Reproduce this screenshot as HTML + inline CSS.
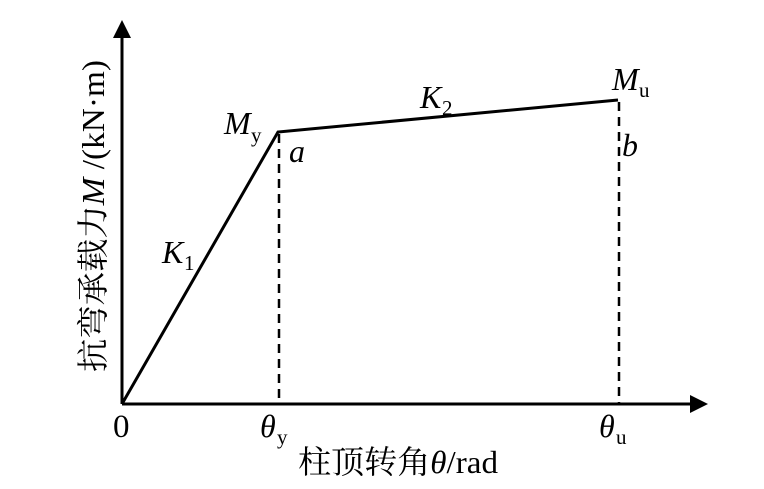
<!DOCTYPE html>
<html><head><meta charset="utf-8"><style>
html,body{margin:0;padding:0;background:#fff;}
svg{display:block;}
text{font-family:"Liberation Serif","Noto Serif CJK SC","Noto Sans CJK SC",serif;fill:#000;}
</style></head><body>
<svg width="764" height="489" viewBox="0 0 764 489" xmlns="http://www.w3.org/2000/svg">
<rect width="764" height="489" fill="#fff"/>
<line x1="122" y1="404" x2="122" y2="34" stroke="#000" stroke-width="3"/>
<polygon points="122,20 113,38 131,38" fill="#000"/>
<line x1="122" y1="404" x2="692" y2="404" stroke="#000" stroke-width="3"/>
<polygon points="708,404 690,395 690,413" fill="#000"/>
<polyline points="122,404 278,132 618,100" fill="none" stroke="#000" stroke-width="3"/>
<line x1="279" y1="134" x2="279" y2="404" stroke="#000" stroke-width="2.5" stroke-dasharray="9,6"/>
<line x1="619" y1="102" x2="619" y2="404" stroke="#000" stroke-width="2.5" stroke-dasharray="9,6"/>
<text x="224" y="134" font-size="32" font-style="italic">M</text><text x="251" y="142" font-size="21">y</text>
<text x="289" y="162" font-size="32" font-style="italic">a</text>
<text x="622" y="156" font-size="32" font-style="italic">b</text>
<text x="612" y="90" font-size="32" font-style="italic">M</text><text x="639" y="97" font-size="21">u</text>
<text x="420" y="108" font-size="32" font-style="italic">K</text><text x="442" y="115" font-size="21">2</text>
<text x="162" y="263" font-size="32" font-style="italic">K</text><text x="184" y="270" font-size="21">1</text>
<text x="113" y="437" font-size="33">0</text>
<text x="260" y="437" font-size="32" font-style="italic">θ</text><text x="277" y="444" font-size="21">y</text>
<text x="599" y="437" font-size="32" font-style="italic">θ</text><text x="616" y="444" font-size="21">u</text>
<text x="298" y="473" font-size="32" textLength="200" lengthAdjust="spacingAndGlyphs">柱顶转角<tspan font-style="italic">θ</tspan>/rad</text>
<text transform="translate(104,372) rotate(-90)" font-size="32" textLength="312" lengthAdjust="spacingAndGlyphs">抗弯承载力<tspan font-style="italic">M</tspan> /(kN·m)</text>
</svg>
</body></html>
